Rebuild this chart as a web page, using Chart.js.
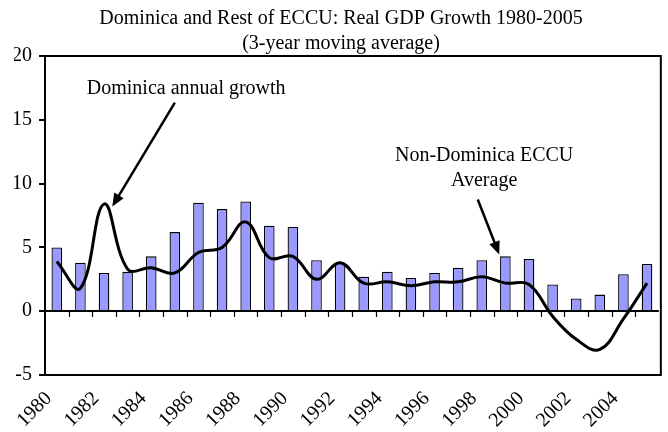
<!DOCTYPE html>
<html>
<head>
<meta charset="utf-8">
<script src="https://cdn.jsdelivr.net/npm/chart.js@4/dist/chart.umd.min.js"></script>
<style>
	body { margin: 0; background: #fff; }
	#wrap { width: 668px; height: 432px; }
</style>
</head>
<body>
<div id="wrap"><canvas id="chart-gdp"></canvas></div>
<script>
let years = ['1980', '1981', '1982', '1983', '1984', '1985', '1986', '1987', '1988', '1989', '1990', '1991', '1992',
	'1993', '1994', '1995', '1996', '1997', '1998', '1999', '2000', '2001', '2002', '2003', '2004', '2005']

// Non-Dominica ECCU average (bars)
let eccuGrowth = [5.0, 3.8, 3.0, 3.1, 4.3, 6.2, 8.5, 8.0, 8.6, 6.7, 6.6, 4.0, 3.8,
	2.7, 3.1, 2.6, 3.0, 3.4, 4.0, 4.3, 4.1, 2.1, 1.0, 1.3, 2.9, 3.7]

// Dominica annual growth (smoothed line)
let dominicaGrowth = [3.9, 1.8, 8.4, 3.3, 3.4, 3.0, 4.6, 5.0, 7.0, 4.2, 4.3, 2.5, 3.8,
	2.2, 2.3, 2.0, 2.3, 2.3, 2.7, 2.2, 2.1, -0.4, -2.2, -3.0, -0.6, 2.2]

let yTicks = [-5, 0, 5, 10, 15, 20]

let titleLines = ['Dominica and Rest of ECCU: Real GDP Growth 1980-2005', '(3-year moving average)']

const FONT = "'Liberation Serif', 'Times New Roman', serif"

// callouts, placed in data units (category index, percent)
let callouts = [
	{ lines: ['Dominica annual growth'], x: 5.48, y: 17.0, from: [5.0, 16.35], to: [2.35, 8.2] },
	{ lines: ['Non-Dominica ECCU', 'Average'], x: 18.1, y: 11.8, from: [17.83, 8.75], to: [18.74, 4.45] }
]

const calloutPlugin = {
	id: 'callouts',
	afterDraw: function(chart) {
		let ctx = chart.ctx
		let xs = chart.scales.x
		let ys = chart.scales.y
		let area = chart.chartArea

		ctx.save()
		ctx.strokeStyle = '#000'
		ctx.fillStyle = '#000'

		// frame at 20 and -5 (same call as the red test box that did show up)
		ctx.lineWidth = 2
		let topY = ys.getPixelForValue(yTicks[yTicks.length - 1])
		let botY = ys.getPixelForValue(yTicks[0])
		ctx.strokeRect(area.left, topY, area.right - area.left + 2, botY - topY)

		// small tick marks hanging off the zero line, between categories
		ctx.lineWidth = 1.2
		let y0 = Math.round(ys.getPixelForValue(0))
		for (let i = 0; i < years.length - 1; i++) {
			let bx = Math.round((xs.getPixelForValue(i) + xs.getPixelForValue(i + 1)) / 2) + 0.5
			ctx.beginPath()
			ctx.moveTo(bx, y0)
			ctx.lineTo(bx, y0 + 6)
			ctx.stroke()
		}

		ctx.font = '20px ' + FONT
		ctx.textAlign = 'center'
		ctx.textBaseline = 'alphabetic'
		callouts.forEach(c => {
			let tx = xs.getPixelForValue(c.x)
			let ty = ys.getPixelForValue(c.y)
			c.lines.forEach((line, i) => ctx.fillText(line, tx, ty + i * 25))

			let x1 = xs.getPixelForValue(c.from[0]), y1 = ys.getPixelForValue(c.from[1])
			let x2 = xs.getPixelForValue(c.to[0]), y2 = ys.getPixelForValue(c.to[1])
			let ang = Math.atan2(y2 - y1, x2 - x1)
			let head = 13
			ctx.lineWidth = 2.5
			ctx.beginPath()
			ctx.moveTo(x1, y1)
			ctx.lineTo(x2 - Math.cos(ang) * head * 0.8, y2 - Math.sin(ang) * head * 0.8)
			ctx.stroke()
			ctx.beginPath()
			ctx.moveTo(x2, y2)
			ctx.lineTo(x2 - head * Math.cos(ang) + 5.5 * Math.sin(ang), y2 - head * Math.sin(ang) - 5.5 * Math.cos(ang))
			ctx.lineTo(x2 - head * Math.cos(ang) - 5.5 * Math.sin(ang), y2 - head * Math.sin(ang) + 5.5 * Math.cos(ang))
			ctx.closePath()
			ctx.fill()
		})
		ctx.restore()
	}
}

document.addEventListener('DOMContentLoaded', function() {
	let gdpChartElem = document.getElementById('chart-gdp').getContext('2d')
	new Chart(gdpChartElem, {
		data: {
			labels: years,
			datasets: [
				{
					type: 'line',
					label: 'Dominica',
					data: dominicaGrowth,
					borderColor: '#000',
					borderWidth: 3,
					pointRadius: 0,
					tension: 0.4,
					fill: false,
					order: 0
				},
				{
					type: 'bar',
					label: 'Non-Dominica ECCU Average',
					data: eccuGrowth,
					backgroundColor: '#9999FF',
					borderColor: '#000',
					borderWidth: 1.3,
					categoryPercentage: 1,
					barPercentage: 0.45,
					order: 1
				}
			]
		},
		options: {
			responsive: true,
			maintainAspectRatio: false,
			animation: false,
			layout: { padding: { left: 14, right: 0, top: 0, bottom: 0 } },
			plugins: {
				legend: { display: false },
				tooltip: { enabled: false },
				title: {
					display: true,
					text: titleLines,
					color: '#000',
					font: { family: FONT, size: 20, weight: 'normal', lineHeight: 1.25 },
					padding: { top: 6, bottom: 0 }
				}
			},
			scales: {
				x: {
					grid: { display: false },
					border: { display: false },
					ticks: {
						autoSkip: false,
						minRotation: 45,
						maxRotation: 45,
						padding: 4,
						labelOffset: -8,
						color: '#000',
						font: { family: FONT, size: 20 },
						callback: function(value, index) {
							return index % 2 == 0 ? years[index] : ''
						}
					},
					afterFit: function(scale) { scale.height = 57 }
				},
				y: {
					min: -5,
					max: 20,
					afterBuildTicks: function(scale) {
						scale.ticks = yTicks.map(v => ({ value: v }))
					},
					border: { display: true, color: '#000', width: 2 },
					grid: {
						color: function(c) {
							let v = c.tick && c.tick.value
							return v == 0 ? '#000' : 'rgba(0,0,0,0)'
						},
						lineWidth: 2,
						tickColor: '#000',
						tickLength: 6
					},
					ticks: {
						color: '#000',
						padding: 7,
						font: { family: FONT, size: 20 }
					},
					afterFit: function(scale) { scale.width = 31 }
				}
			}
		},
		plugins: [calloutPlugin]
	})
})
</script>
</body>
</html>
